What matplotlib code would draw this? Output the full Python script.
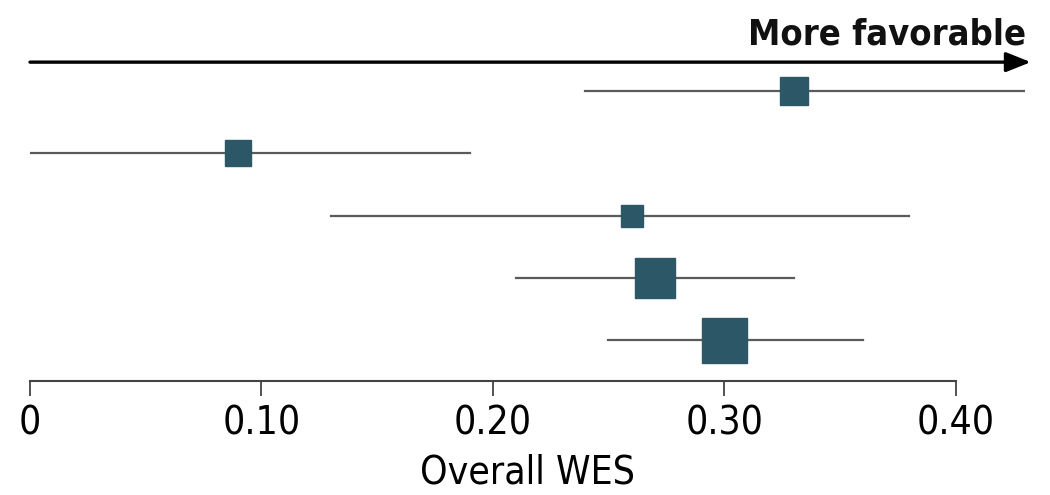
import matplotlib
matplotlib.use("Agg")
import matplotlib.pyplot as plt
import numpy as np

# forest plot values, top row first
wes = [0.33, 0.09, 0.26, 0.27, 0.30]
ci_low = [0.24, 0.00, 0.13, 0.21, 0.25]
ci_high = [0.43, 0.19, 0.38, 0.33, 0.36]
weights = [28, 27, 22, 40, 45]  # square side (px), proportional to study weight

xticks = [0, 0.10, 0.20, 0.30, 0.40]
xticklabels = ["0", "0.10", "0.20", "0.30", "0.40"]

plt.rcParams['font.family'] = ['DejaVu Sans']
plt.rcParams['font.stretch'] = 'condensed'

fig = plt.figure(figsize=(10.5, 4.95), dpi=100)
ax = fig.add_axes([30 / 1050, 0.230, 995 / 1050, 0.919 - 0.230])

n = len(wes)
ypos = np.arange(n, 0, -1)
for y, m, lo, hi, w in zip(ypos, wes, ci_low, ci_high, weights):
    ax.plot([lo, hi], [y, y], color="#5a5a5a", lw=1.6, zorder=1)
    ax.plot(m, y, marker="s", ms=w * 0.72, color="#2b5766", mec="#2b5766", zorder=2)

ax.set_xlim(0, 0.43)
ax.set_ylim(0.341, 5.82)

# direction arrow
ax.annotate("", xy=(0.4325, 5.466), xytext=(0, 5.466), annotation_clip=False,
            arrowprops=dict(arrowstyle="-|>,head_length=1.5,head_width=0.6",
                            color="black", lw=2.4, shrinkA=0, shrinkB=0))
ax.text(0.4305, 5.64, "More favorable", ha="right", va="bottom", fontsize=26,
        fontweight="bold", color="#111111")

for s in ["top", "right", "left"]:
    ax.spines[s].set_visible(False)
ax.spines["bottom"].set_bounds(0, 0.40)
ax.spines["bottom"].set_color("#444444")
ax.spines["bottom"].set_linewidth(1.5)
ax.set_yticks([])
ax.set_xticks(xticks)
ax.set_xticklabels(xticklabels, fontsize=28)
ax.tick_params(axis="x", length=11, width=1.3, color="#444444", pad=6)
ax.set_xlabel("Overall WES", fontsize=28, labelpad=8)

fig.savefig("out.png", dpi=100)
